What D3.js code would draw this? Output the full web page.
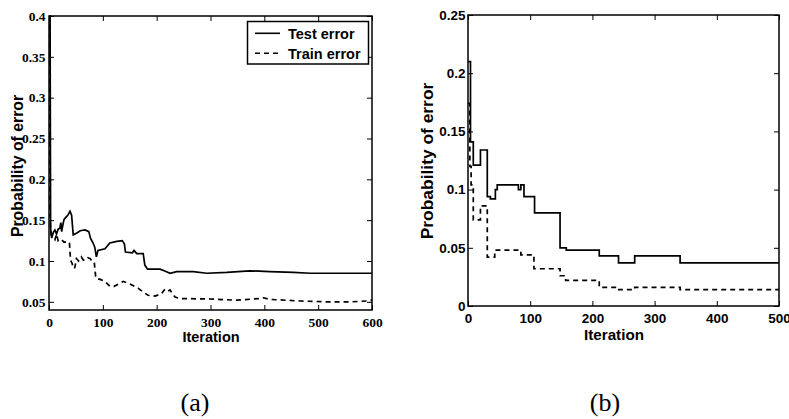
<!DOCTYPE html>
<html><head><meta charset="utf-8">
<script src="https://cdn.jsdelivr.net/npm/d3@7/dist/d3.min.js"></script>
<style>body{margin:0;background:#fff}svg{display:block}</style>
</head><body><svg id="c" width="789" height="419"></svg>
<script>
// ---------- data ----------
const xTicksA = [0,100,200,300,400,500,600];
const yTicksA = [0.05,0.1,0.15,0.2,0.25,0.3,0.35,0.4];
const xTicksB = [0,100,200,300,400,500];
const yTicksB = [0,0.05,0.1,0.15,0.2,0.25];
const seriesNames = ["Test error","Train error"];
const axisTitleX = "Iteration";
const axisTitleY = "Probability of error";
const captions = ["(a)","(b)"];

// panel (a): [iteration, error]
const testErrorA = [[0,0.40],[2,0.40],[3,0.14],[5,0.128],[8,0.135],[11,0.138],[14,0.133],[17,0.139],[20,0.14],[22,0.147],[23.5,0.136],[26,0.145],[28,0.151],[32,0.154],[35,0.156],[39,0.161],[42,0.156],[44,0.140],[45,0.132],[51,0.134],[58,0.137],[67,0.138],[74,0.136],[77,0.128],[82,0.122],[85,0.117],[88,0.105],[91,0.113],[104,0.115],[113,0.122],[126,0.124],[136,0.125],[140,0.121],[142,0.111],[155,0.110],[158,0.113],[163,0.109],[175,0.109],[178,0.095],[183,0.090],[197,0.090],[206,0.090],[214,0.088],[225,0.085],[237,0.087],[268,0.087],[293,0.085],[330,0.086],[373,0.088],[410,0.087],[454,0.086],[485,0.085],[547,0.085],[600,0.085]];
const trainErrorA = [[0,0.40],[1,0.40],[2,0.15],[4,0.132],[6,0.13],[11,0.126],[14,0.133],[17,0.125],[22,0.127],[28,0.123],[35,0.124],[38,0.122],[40,0.101],[43,0.097],[45,0.091],[48,0.092],[51,0.103],[55,0.100],[60,0.105],[64,0.101],[67,0.101],[72,0.104],[76,0.103],[80,0.100],[84,0.099],[87,0.079],[95,0.0775],[104,0.075],[110,0.071],[113,0.069],[121,0.069],[130,0.072],[138,0.075],[150,0.072],[166,0.0665],[175,0.062],[184,0.058],[197,0.057],[205,0.059],[209,0.060],[214,0.0645],[218,0.062],[225,0.0645],[230,0.059],[234,0.056],[243,0.054],[299,0.0535],[349,0.052],[390,0.054],[398,0.055],[410,0.053],[466,0.051],[516,0.050],[560,0.050],[590,0.051],[600,0.052]];

// panel (b): step changes [iteration, error]
const testErrorB = [[0,0.21],[4,0.141],[8.5,0.121],[20,0.134],[31,0.094],[36,0.092],[44,0.100],[47,0.104],[81,0.100],[85,0.104],[90,0.094],[107,0.080],[148,0.050],[158,0.048],[211,0.043],[242,0.037],[268,0.043],[341,0.037],[500,0.037]];
const trainErrorB = [[0,0.174],[3,0.12],[5,0.104],[8.5,0.074],[20,0.086],[31,0.042],[43,0.048],[85,0.044],[106,0.032],[148,0.026],[157,0.022],[211,0.016],[239,0.014],[268,0.016],[341,0.014],[500,0.014]];

// ---------- drawing ----------
const svg = d3.select("#c");
const fmt = d3.format("~g");

function panel(o){
  const x = d3.scaleLinear().domain(o.xDomain).range([o.left,o.right]);
  const y = d3.scaleLinear().domain(o.yDomain).range([o.bottom,o.top]);
  const g = svg.append("g");
  const clipId = "clip"+o.id;
  svg.append("clipPath").attr("id",clipId).append("rect")
    .attr("x",o.left).attr("y",o.top-2).attr("width",o.right-o.left+1).attr("height",o.bottom-o.top+3);

  const tickStyle = sel => {
    sel.attr("font-family",null).attr("font-size",null);
    sel.select(".domain").remove();
    sel.selectAll(".tick line").attr("stroke","#000").attr("stroke-width",1);
    sel.selectAll("text").attr("fill","#000").style("font-family",o.tickFont)
      .style("font-weight","bold").style("font-size",o.tickSize+"px");
  };
  g.append("g").attr("transform",`translate(0,${o.bottom})`)
    .call(d3.axisBottom(x).tickValues(o.xTicks).tickFormat(fmt).tickSizeInner(-5).tickSizeOuter(0).tickPadding(o.xPad))
    .call(tickStyle);
  g.append("g").attr("transform",`translate(0,${o.top})`)
    .call(d3.axisTop(x).tickValues(o.xTicks).tickFormat("").tickSizeInner(-5).tickSizeOuter(0))
    .call(tickStyle);
  g.append("g").attr("transform",`translate(${o.left},0)`)
    .call(d3.axisLeft(y).tickValues(o.yTicks).tickFormat(fmt).tickSizeInner(-5).tickSizeOuter(0).tickPadding(o.yPad))
    .call(tickStyle);
  g.append("g").attr("transform",`translate(${o.right},0)`)
    .call(d3.axisRight(y).tickValues(o.yTicks).tickFormat("").tickSizeInner(-5).tickSizeOuter(0))
    .call(tickStyle);

  const line = d3.line().x(d=>x(d[0])).y(d=>y(d[1])).curve(o.curve);
  const lg = g.append("g").attr("clip-path",`url(#${clipId})`);
  lg.append("path").datum(o.test).attr("d",line).attr("fill","none")
    .attr("stroke","#000").attr("stroke-width",1.7).attr("stroke-linejoin","miter");
  lg.append("path").datum(o.train).attr("d",line).attr("fill","none")
    .attr("stroke","#000").attr("stroke-width",1.7).attr("stroke-dasharray","5,4");

  g.append("rect").attr("x",o.left).attr("y",o.top).attr("width",o.right-o.left).attr("height",o.bottom-o.top)
    .attr("fill","none").attr("stroke","#000").attr("stroke-width",1.5);

  g.append("text").attr("x",o.xLabelX).attr("y",o.xLabelY).attr("text-anchor","middle")
    .attr("font-family","'Liberation Sans', Arial, sans-serif").attr("font-weight","bold")
    .attr("font-size",o.xLabelSize).text(axisTitleX);
  g.append("text").attr("transform",`translate(${o.yLabelX},${o.yLabelY}) rotate(-90)`).attr("text-anchor","middle")
    .attr("font-family","'Liberation Sans', Arial, sans-serif").attr("font-weight","bold")
    .attr("font-size",o.yLabelSize).text(axisTitleY);
  g.append("text").attr("x",o.capX).attr("y",411).attr("text-anchor","middle")
    .attr("font-family","'Liberation Serif', 'Times New Roman', serif")
    .attr("font-size",26).text(o.caption);
  return {x,y,g};
}

const pa = panel({id:"a",left:49,right:372,top:16,bottom:310,xDomain:[0,600],yDomain:[0.04,0.4],
  xTicks:xTicksA,yTicks:yTicksA,tickFont:"'Liberation Serif', 'Times New Roman', serif",tickSize:13.5,
  xPad:7,yPad:3.5,test:testErrorA,train:trainErrorA,curve:d3.curveLinear,
  xLabelX:211,xLabelY:341.5,xLabelSize:14.5,yLabelX:23,yLabelY:166,yLabelSize:15.8,capX:195,caption:captions[0]});

const pb = panel({id:"b",left:468,right:779,top:15,bottom:306,xDomain:[0,500],yDomain:[0,0.25],
  xTicks:xTicksB,yTicks:yTicksB,tickFont:"'Liberation Sans', Arial, sans-serif",tickSize:13.5,
  xPad:7,yPad:2.5,test:testErrorB,train:trainErrorB,curve:d3.curveStepAfter,
  xLabelX:614,xLabelY:340,xLabelSize:15.2,yLabelX:433,yLabelY:161,yLabelSize:17.4,capX:605,caption:captions[1]});

// legend in panel (a)
const leg = pa.g.append("g");
leg.append("rect").attr("x",247.5).attr("y",21.5).attr("width",121).attr("height",42.5)
  .attr("fill","#fff").attr("stroke","#000").attr("stroke-width",1.5);
seriesNames.forEach((name,i)=>{
  const yy = 33.3 + i*20;
  leg.append("line").attr("x1",255).attr("x2",280).attr("y1",yy).attr("y2",yy)
    .attr("stroke","#000").attr("stroke-width",1.6).attr("stroke-dasharray", i ? "5,4" : null);
  leg.append("text").attr("x",288).attr("y",yy+5.5)
    .attr("font-family","'Liberation Sans', Arial, sans-serif").attr("font-weight","bold")
    .attr("font-size",14.5).text(name);
});
</script></body></html>
